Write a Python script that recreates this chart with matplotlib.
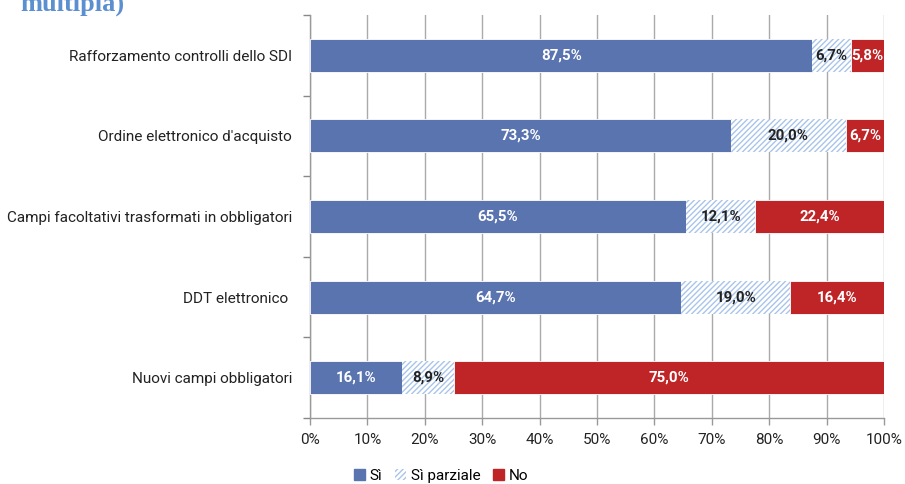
import matplotlib
matplotlib.use("Agg")
import matplotlib.pyplot as plt
from matplotlib.font_manager import fontManager
from matplotlib.patches import Patch
import numpy as np

names = {f.name for f in fontManager.ttflist}
FONT = "Liberation Sans Narrow" if "Liberation Sans Narrow" in names else "Roboto"
plt.rcParams['font.family'] = [FONT, 'DejaVu Sans']
plt.rcParams['hatch.linewidth'] = 1.0

categories = ["Rafforzamento controlli dello SDI", "Ordine elettronico d'acquisto",
              "Campi facoltativi trasformati in obbligatori", "DDT elettronico ",
              "Nuovi campi obbligatori"]
si = [87.5, 73.3, 65.5, 64.7, 16.1]
si_parziale = [6.7, 20.0, 12.1, 19.0, 8.9]
no = [5.8, 6.7, 22.4, 16.4, 75.0]
series_names = ["Sì", "Sì parziale", "No"]
xticks = [0, 10, 20, 30, 40, 50, 60, 70, 80, 90, 100]

BLUE = "#5a74b0"
RED = "#bf2426"
HATCH = "#a9c5ea"

fig = plt.figure(figsize=(9.05, 4.84), dpi=100)
ax = fig.add_axes([310/905, 1-418/484, 574/905, 403/484])

y = np.arange(len(categories))
h = 0.41
si_a = np.array(si); sp_a = np.array(si_parziale); no_a = np.array(no)
ax.barh(y, si_a, height=h, color=BLUE, edgecolor="white", linewidth=0.6, zorder=3)
plt.rcParams['hatch.color'] = HATCH
ax.barh(y, sp_a, left=si_a, height=h, color="white", edgecolor=HATCH, hatch="//////",
        linewidth=0, zorder=3)
ax.barh(y, no_a, left=si_a + sp_a, height=h, color=RED, edgecolor="white", linewidth=0.6, zorder=3)

def fmt(v):
    return f"{v:.1f}%".replace(".", ",")

fs = 10.8
for i in range(len(categories)):
    ax.text(si_a[i]/2, y[i], fmt(si_a[i]), ha="center", va="center", color="white",
            fontsize=fs, fontweight="bold", zorder=5)
    ax.text(si_a[i] + sp_a[i]/2, y[i], fmt(sp_a[i]), ha="center", va="center", color="#222222",
            fontsize=fs, fontweight="bold", zorder=5)
    ax.text(si_a[i] + sp_a[i] + no_a[i]/2, y[i], fmt(no_a[i]), ha="center", va="center", color="white",
            fontsize=fs, fontweight="bold", zorder=5)

ax.set_xlim(0, 100)
ax.set_ylim(len(categories) - 0.5, -0.5)
ax.set_xticks(xticks)
ax.set_xticklabels([f"{t}%" for t in xticks], fontsize=11, color="#222222")
ax.set_yticks(y)
ax.set_yticklabels(categories, fontsize=11, color="#222222")
ax.tick_params(axis="y", length=0, pad=13)
ax.set_yticks(np.arange(-0.5, len(categories), 1.0), minor=True)
ax.tick_params(axis="y", which="minor", length=5, color="#888888", width=1)
ax.tick_params(axis="x", length=5, color="#999999", width=1, pad=6)
ax.grid(axis="x", color="#aaaaaa", linewidth=1, zorder=0)
for s in ["top", "right"]:
    ax.spines[s].set_visible(False)
for s in ["left", "bottom"]:
    ax.spines[s].set_color("#999999")
    ax.spines[s].set_linewidth(1)

handles = [Patch(facecolor=BLUE, edgecolor=BLUE),
           Patch(facecolor="white", edgecolor=HATCH, hatch="//////", linewidth=0),
           Patch(facecolor=RED, edgecolor=RED)]
fig.legend(handles, series_names, loc="center", bbox_to_anchor=(441/905, 1-476/484), ncol=3,
           frameon=False, fontsize=11, handlelength=0.75, handleheight=0.75, handletextpad=0.3,
           columnspacing=0.8)

fig.text(20/905, 1-11/484, "multipla)", fontsize=19, color="#5b8fd0", family="Liberation Serif",
         fontweight="bold", ha="left", va="baseline")

fig.savefig("out.png", dpi=100)
